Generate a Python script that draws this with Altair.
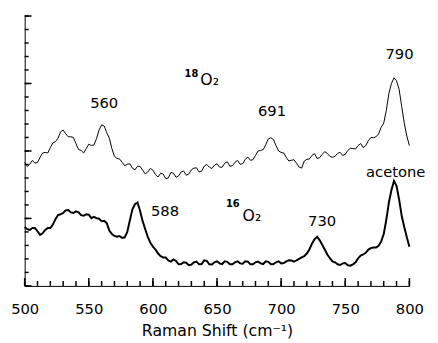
import altair as alt
import pandas as pd

# Raman shift sample positions (cm^-1)
shift = list(range(500, 801, 2))

# 18O2 spectrum (upper, thin trace), arbitrary intensity units
o18 = [9.16, 8.85, 9.02, 9.30, 9.09, 9.15, 9.53, 9.85, 9.89, 9.85,
       10.25, 10.60, 10.69, 10.95, 11.42, 11.55, 11.27, 11.05, 11.05, 11.00,
       10.55, 10.10, 10.04, 9.85, 10.18, 10.50, 10.40, 10.45, 10.91, 11.55,
       11.93, 11.85, 11.35, 10.95, 10.18, 9.60, 9.45, 9.40, 9.16, 8.90,
       9.02, 9.05, 8.73, 8.60, 8.87, 8.85, 8.58, 8.30, 8.44, 8.70,
       8.58, 8.25, 8.07, 8.35, 8.29, 7.95, 8.00, 8.40, 8.36, 8.05,
       8.15, 8.45, 8.51, 8.20, 8.29, 8.60, 8.73, 8.75, 8.44, 8.50,
       8.87, 9.00, 8.80, 8.70, 8.95, 9.05, 8.80, 8.80, 9.09, 9.20,
       8.87, 8.90, 9.16, 9.30, 9.02, 9.05, 9.38, 9.55, 9.31, 9.35,
       9.67, 10.00, 10.04, 10.10, 10.47, 10.90, 10.98, 10.85, 10.40, 10.00,
       9.89, 9.85, 9.53, 9.25, 9.31, 9.35, 9.09, 8.80, 8.73, 9.25,
       9.38, 9.40, 9.67, 9.80, 9.45, 9.50, 9.75, 9.95, 9.82, 9.60,
       9.53, 9.60, 9.82, 9.90, 9.67, 9.75, 10.04, 10.20, 10.18, 10.15,
       10.40, 10.55, 10.25, 10.40, 10.76, 11.00, 10.98, 11.05, 11.27, 11.75,
       12.07, 13.00, 14.25, 15.00, 15.42, 15.20, 14.55, 13.30, 12.07, 11.10,
       10.40]

# 16O2 spectrum (lower, thick trace)
o16 = [4.36, 4.20, 4.15, 4.30, 4.29, 4.05, 3.78, 3.90, 4.15, 4.30,
       4.29, 4.55, 4.95, 5.25, 5.31, 5.40, 5.60, 5.62, 5.45, 5.40,
       5.53, 5.45, 5.24, 5.20, 5.31, 5.28, 5.02, 5.12, 5.02, 4.98,
       4.80, 4.82, 4.65, 4.10, 3.85, 3.70, 3.64, 3.70, 3.56, 3.60,
       4.00, 4.85, 5.67, 6.05, 6.18, 5.55, 4.80, 4.20, 3.64, 3.20,
       2.91, 2.70, 2.40, 2.20, 2.11, 2.10, 1.89, 1.80, 1.96, 1.85,
       1.60, 1.62, 1.75, 1.72, 1.53, 1.58, 1.75, 1.80, 1.60, 1.62,
       1.89, 1.85, 1.60, 1.58, 1.75, 1.82, 1.67, 1.62, 1.82, 1.78,
       1.60, 1.60, 1.75, 1.82, 1.67, 1.64, 1.82, 1.80, 1.60, 1.60,
       1.75, 1.80, 1.67, 1.62, 1.82, 1.78, 1.60, 1.62, 1.75, 1.82,
       1.67, 1.70, 1.82, 1.90, 1.89, 1.80, 1.89, 2.00, 2.11, 2.20,
       2.40, 2.70, 3.13, 3.45, 3.64, 3.40, 3.05, 2.70, 2.33, 2.05,
       1.82, 1.75, 1.60, 1.55, 1.67, 1.70, 1.53, 1.50, 1.60, 1.75,
       2.04, 2.25, 2.33, 2.45, 2.69, 2.80, 2.84, 2.85, 2.98, 3.30,
       3.85, 4.90, 6.18, 7.10, 7.78, 7.40, 6.40, 5.20, 4.36, 3.60,
       2.91]

# peak / trace annotations (centered)
ann_text = ["560", "691", "790", "acetone", "588", "730"]
ann_x = [562.0, 692.9, 792.3, 789.3, 609.4, 731.9]
ann_y = [13.16, 12.58, 16.80, 8.07, 5.16, 4.44]

# isotope labels: mass number (superscript) and molecule
iso_mass = ["18", "16"]
iso_mass_x = [624.7, 656.9]
iso_mass_y = [15.49, 5.82]
iso_mol = ["O\u2082", "O\u2082"]
iso_mol_x = [637.0, 669.9]
iso_mol_y = [14.91, 4.80]

# axis tick positions
x_major = [500, 550, 600, 650, 700, 750, 800]
x_minor = list(range(500, 801, 10))
y_major = [0, 5, 10, 15, 20]
y_minor = list(range(0, 21))

FONT = "DejaVu Sans"
W, H = 392, 275

xs = alt.Scale(domain=[500, 800], zero=False, nice=False)
ys = alt.Scale(domain=[0, 20], nice=False)

df18 = pd.DataFrame({"shift": shift, "intensity": o18})
df16 = pd.DataFrame({"shift": shift, "intensity": o16})
dfa = pd.DataFrame({"t": ann_text, "x": ann_x, "y": ann_y})
dfm = pd.DataFrame({"t": iso_mass, "x": iso_mass_x, "y": iso_mass_y})
dfo = pd.DataFrame({"t": iso_mol, "x": iso_mol_x, "y": iso_mol_y})

ax_x = alt.Axis(orient="bottom", values=x_major, ticks=False, tickSize=0,
                domain=True, domainColor="black", domainWidth=1,
                labelFont=FONT, labelFontSize=15, labelColor="black",
                labelPadding=16, labelFlush=False, labelOverlap=False,
                grid=False,
                title="Raman Shift (cm\u207b\u00b9)", titleFont=FONT,
                titleFontSize=16, titleFontWeight="normal",
                titleColor="black", titlePadding=7)
ax_y = alt.Axis(orient="left", values=y_major, labels=False, ticks=False,
                tickSize=0, domain=True, domainColor="black", domainWidth=1,
                grid=False, title=None)

upper = alt.Chart(df18).mark_line(color="black", strokeWidth=1).encode(
    x=alt.X("shift:Q", scale=xs, axis=ax_x),
    y=alt.Y("intensity:Q", scale=ys, axis=ax_y),
)
lower = alt.Chart(df16).mark_line(color="black", strokeWidth=2).encode(
    x=alt.X("shift:Q", scale=xs),
    y=alt.Y("intensity:Q", scale=ys),
)

# inward tick marks drawn from the tick-position lists
TW = 1.5
xt_major = alt.Chart(pd.DataFrame({"v": x_major})).mark_rule(
    color="black", strokeWidth=TW).encode(
    x=alt.X("v:Q", scale=xs), y=alt.value(H), y2=alt.value(H - 8))
xt_minor = alt.Chart(pd.DataFrame({"v": x_minor})).mark_rule(
    color="black", strokeWidth=TW).encode(
    x=alt.X("v:Q", scale=xs), y=alt.value(H), y2=alt.value(H - 5))
yt_major = alt.Chart(pd.DataFrame({"v": y_major})).mark_rule(
    color="black", strokeWidth=TW).encode(
    y=alt.Y("v:Q", scale=ys), x=alt.value(0), x2=alt.value(7))
yt_minor = alt.Chart(pd.DataFrame({"v": y_minor})).mark_rule(
    color="black", strokeWidth=TW).encode(
    y=alt.Y("v:Q", scale=ys), x=alt.value(0), x2=alt.value(4))

labels = alt.Chart(dfa).mark_text(font=FONT, fontSize=15, color="black",
                                  align="center", baseline="alphabetic").encode(
    x=alt.X("x:Q", scale=xs),
    y=alt.Y("y:Q", scale=ys),
    text="t:N",
)
mass = alt.Chart(dfm).mark_text(font=FONT, fontSize=10, fontWeight="bold",
                                color="black", align="left",
                                baseline="alphabetic").encode(
    x=alt.X("x:Q", scale=xs),
    y=alt.Y("y:Q", scale=ys),
    text="t:N",
)
mol = alt.Chart(dfo).mark_text(font=FONT, fontSize=16, color="black",
                               align="left", baseline="alphabetic").encode(
    x=alt.X("x:Q", scale=xs),
    y=alt.Y("y:Q", scale=ys),
    text="t:N",
)

chart = alt.layer(upper, lower, xt_major, xt_minor, yt_major, yt_minor,
                  labels, mass, mol).properties(
    width=W, height=H,
    autosize=alt.AutoSizeParams(type="none"),
    padding={"left": 17, "top": 5, "right": 21, "bottom": 55},
    background="white",
).configure_view(stroke=None)

chart.save("out.html", embed_options={"renderer": "svg", "actions": False})
